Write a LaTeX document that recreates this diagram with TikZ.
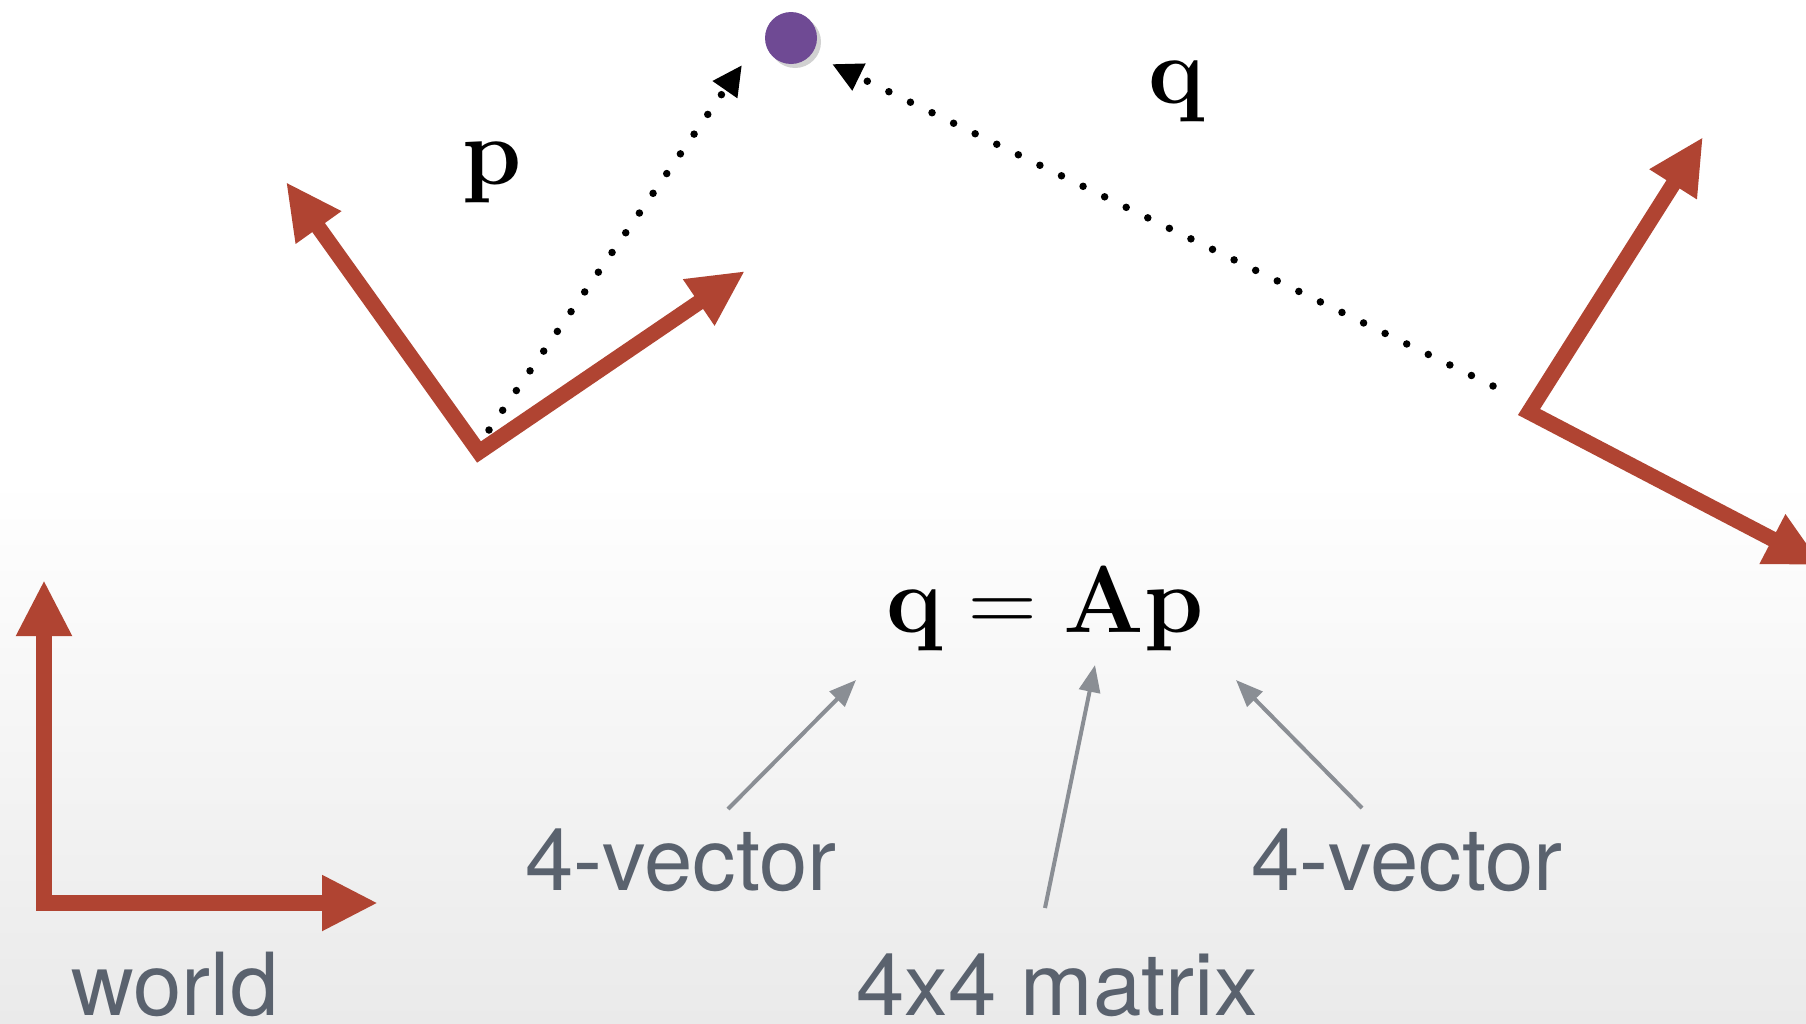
\documentclass[tikz,border=0pt]{standalone}
\usepackage{fontspec}
\newfontfamily\labelfont{TeX Gyre Heros}
\newfontfamily\eqfont{Latin Modern Roman}
\usetikzlibrary{arrows.meta}
\definecolor{framered}{RGB}{176,68,50}
\definecolor{dotpurple}{RGB}{111,74,148}
\definecolor{pointergray}{RGB}{138,142,148}
\definecolor{labelgray}{RGB}{90,98,110}
\definecolor{bggray}{RGB}{234,234,234}
\tikzset{
  frame/.style={draw=framered, line width=15.5pt, line join=miter,
    {Triangle[length=56pt,width=52pt]}-{Triangle[length=56pt,width=52pt]}},
  dotarrow/.style={draw=black, line width=7.5pt, line cap=round,
    dash pattern=on 0pt off 24pt, -{Triangle[length=30pt,width=28pt]}},
  pointer/.style={draw=pointergray, line width=4pt,
    -{Triangle[length=27pt,width=21pt]}},
  mathlabel/.style={anchor=base, inner sep=0pt, font=\eqfont\fontsize{95}{100}\selectfont},
  textlabel/.style={anchor=base, inner sep=0pt, text=labelgray,
    font=\labelfont\fontsize{87}{90}\selectfont}
}
\begin{document}
\begin{tikzpicture}[x=1pt,y=-1pt]
\useasboundingbox (0,0) rectangle (1806,1023);
\fill[white] (0,0) rectangle (1806,1023);
\shade[top color=white, bottom color=bggray] (0,480) rectangle (1806,1023);

% point
\fill[black, opacity=0.18] (795,42) circle (26);
\node[circle, fill=dotpurple, minimum size=52pt, inner sep=0pt] (pt) at (791,38) {};

% left frame
\coordinate (lo) at (479,452);
\coordinate (la) at (286,182);
\coordinate (lb) at (745,271);
\draw[frame] (la) -- (lo) -- (lb);

% right frame
\coordinate (ro) at (1529,412);
\coordinate (ra) at (1703,137);
\coordinate (rb) at (1822,565);
\draw[frame] (ra) -- (ro) -- (rb);

% world frame
\coordinate (wo) at (44,903);
\coordinate (wa) at (44,580);
\coordinate (wb) at (378,903);
\draw[frame] (wa) -- (wo) -- (wb);

% dotted vectors
\coordinate (ps) at (489,430);
\coordinate (pe) at (742,65);
\coordinate (qs) at (1493,386);
\coordinate (qe) at (832,64);
\draw[dotarrow] (ps) -- (pe);
\draw[dotarrow] (qs) -- (qe);

% labels
\node[mathlabel] (plabel) at (492,184) {\bfseries p};
\node[mathlabel] (qlabel) at (1177,103) {\bfseries q};
\node[mathlabel] (eq) at (1045,632) {\textbf{q}\hspace{0.278em}=\hspace{0.278em}\textbf{Ap}};

\node[textlabel] (world) at (175,1015) {world};
\node[textlabel] (vecl) at (681,890) {4-vector};
\node[textlabel] (vecr) at (1407,890) {4-vector};
\node[textlabel] (mat) at (1057,1015) {4x4 matrix};

% pointers
\coordinate (a1s) at (728,809);
\coordinate (a1e) at (856,680);
\coordinate (a2s) at (1045,908);
\coordinate (a2e) at (1095,665);
\coordinate (a3s) at (1362,808);
\coordinate (a3e) at (1236,680);
\draw[pointer] (a1s) -- (a1e);
\draw[pointer] (a2s) -- (a2e);
\draw[pointer] (a3s) -- (a3e);
\end{tikzpicture}
\end{document}
